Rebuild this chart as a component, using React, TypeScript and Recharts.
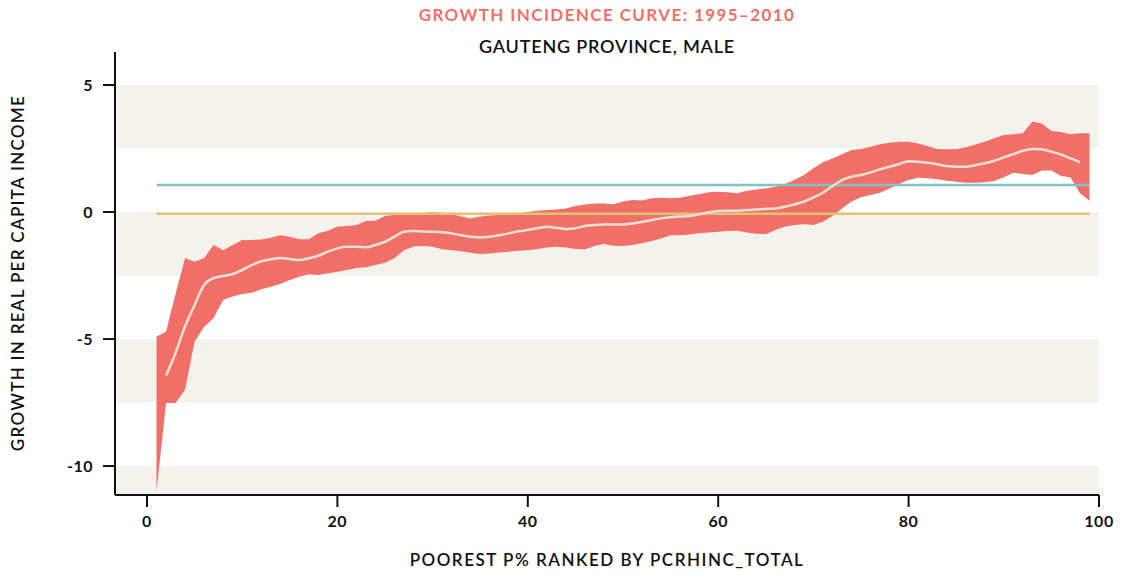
import {
  ComposedChart,
  Area,
  Line,
  XAxis,
  YAxis,
  ReferenceArea,
  ReferenceLine,
} from "recharts";

// percentile of the population, 1..99
const percentiles = Array.from({ length: 99 }, (_, i) => i + 1);

// upper / lower bound of the confidence band
const upper = [
  -4.9, -4.71, -3.23, -1.81, -1.96, -1.81, -1.3, -1.5, -1.3, -1.1,
  -1.1, -1.08, -1.01, -0.91, -0.97, -1.07, -1.07, -0.84, -0.74, -0.58,
  -0.55, -0.51, -0.35, -0.34, -0.16, -0.12, -0.12, -0.08, -0.03, -0.01,
  -0.03, -0.09, -0.18, -0.25, -0.18, -0.14, -0.12, -0.09, -0.05, 0.0,
  0.05, 0.08, 0.1, 0.14, 0.24, 0.3, 0.34, 0.34, 0.31, 0.41,
  0.47, 0.45, 0.54, 0.56, 0.54, 0.56, 0.64, 0.7, 0.78, 0.8,
  0.78, 0.74, 0.84, 0.89, 0.93, 1.0, 1.1, 1.26, 1.46, 1.72,
  1.96, 2.11, 2.27, 2.44, 2.48, 2.57, 2.67, 2.73, 2.77, 2.77,
  2.7, 2.6, 2.48, 2.47, 2.48, 2.55, 2.66, 2.77, 2.9, 3.03,
  3.06, 3.1, 3.56, 3.49, 3.19, 3.15, 3.06, 3.1, 3.1,
];

const lower = [
  -11.0, -7.52, -7.52, -7.0, -5.1, -4.53, -4.17, -3.46, -3.33, -3.23,
  -3.18, -3.04, -2.94, -2.83, -2.68, -2.55, -2.45, -2.48, -2.41, -2.35,
  -2.28, -2.2, -2.17, -2.09, -2.0, -1.82, -1.5, -1.36, -1.34, -1.37,
  -1.47, -1.5, -1.54, -1.6, -1.65, -1.63, -1.59, -1.56, -1.52, -1.5,
  -1.46, -1.4, -1.37, -1.4, -1.46, -1.47, -1.34, -1.26, -1.33, -1.34,
  -1.3, -1.23, -1.14, -1.04, -0.91, -0.91, -0.88, -0.84, -0.81, -0.78,
  -0.75, -0.74, -0.81, -0.86, -0.87, -0.71, -0.58, -0.51, -0.48, -0.51,
  -0.38, -0.16, 0.14, 0.41, 0.58, 0.67, 0.76, 0.93, 1.1, 1.26,
  1.35, 1.33, 1.29, 1.23, 1.19, 1.15, 1.15, 1.17, 1.22, 1.37,
  1.55, 1.5, 1.46, 1.63, 1.63, 1.42, 1.37, 0.74, 0.44,
];

// point estimate of growth, missing at both ends
const median: (number | null)[] = [
  null, -6.44, -5.55, -4.5, -3.66, -2.87, -2.6, -2.52, -2.44, -2.28,
  -2.09, -1.94, -1.86, -1.81, -1.85, -1.89, -1.82, -1.72, -1.56, -1.43,
  -1.37, -1.37, -1.39, -1.3, -1.17, -0.97, -0.78, -0.75, -0.77, -0.78,
  -0.8, -0.84, -0.91, -0.97, -1.0, -0.97, -0.91, -0.84, -0.76, -0.71,
  -0.64, -0.58, -0.62, -0.67, -0.64, -0.55, -0.51, -0.49, -0.49, -0.49,
  -0.45, -0.39, -0.31, -0.25, -0.21, -0.18, -0.16, -0.09, -0.01, 0.04,
  0.05, 0.05, 0.08, 0.1, 0.12, 0.14, 0.21, 0.3, 0.41, 0.58,
  0.76, 1.02, 1.26, 1.39, 1.46, 1.56, 1.68, 1.78, 1.89, 2.0,
  1.98, 1.94, 1.88, 1.81, 1.78, 1.78, 1.84, 1.92, 2.02, 2.15,
  2.28, 2.41, 2.48, 2.47, 2.37, 2.27, 2.11, 1.96, null,
];

const meanGrowth = 1.06;
const zeroLine = -0.07;
const lineStart = 1;
const lineEnd = 99;

const xTicks = [0, 20, 40, 60, 80, 100];
const yTicks = [-10, -5, 0, 5];
const xDomain: [number, number] = [-3.36, 100];
const yDomain: [number, number] = [-11.14, 6.3];
const shadedBands: [number, number][] = [
  [2.5, 5],
  [-2.5, 0],
  [-7.5, -5],
  [-11.14, -10],
];

const data = percentiles.map((p, i) => ({
  p,
  band: [lower[i], upper[i]],
  median: median[i],
}));

const FONT = "Lato, 'Open Sans', sans-serif";
const tickStyle = { fontSize: 16, fill: "#111", fontWeight: 700, fontFamily: FONT, letterSpacing: 0.5 };

export default function App() {
  return (
    <div style={{ position: "absolute", left: 0, top: 0, width: 1125, height: 575, background: "#fff", fontFamily: FONT }}>
      <div style={{ position: "absolute", left: 115, width: 984, top: 4, textAlign: "center", color: "#f07068", fontWeight: 700, fontSize: 17, letterSpacing: 1.4 }}>
        GROWTH INCIDENCE CURVE: 1995–2010
      </div>
      <div style={{ position: "absolute", left: 115, width: 984, top: 35, textAlign: "center", color: "#111", fontWeight: 600, fontSize: 18, letterSpacing: 0.8 }}>
        GAUTENG PROVINCE, MALE
      </div>
      <ComposedChart
        width={1125}
        height={575}
        data={data}
        margin={{ top: 52, right: 26, left: 0, bottom: 0 }}
      >
        {shadedBands.map(([a, b]) => (
          <ReferenceArea
            key={a}
            x1={xDomain[0]}
            x2={xDomain[1]}
            y1={a}
            y2={b}
            fill="#f3f2ed"
            fillOpacity={1}
            stroke="none"
            ifOverflow="hidden"
          />
        ))}
        <XAxis
          type="number"
          dataKey="p"
          domain={xDomain}
          ticks={xTicks}
          allowDataOverflow
          height={80}
          tick={tickStyle}
          tickSize={12}
          tickMargin={9}
          axisLine={{ stroke: "#111", strokeWidth: 2 }}
          tickLine={{ stroke: "#111", strokeWidth: 2 }}
        />
        <YAxis
          type="number"
          domain={yDomain}
          ticks={yTicks}
          allowDataOverflow
          width={115}
          tick={tickStyle}
          tickSize={12}
          tickMargin={10}
          axisLine={{ stroke: "#111", strokeWidth: 2 }}
          tickLine={{ stroke: "#111", strokeWidth: 2 }}
        />
        <Area
          type="linear"
          dataKey="band"
          fill="#f07068"
          fillOpacity={1}
          stroke="none"
          isAnimationActive={false}
        />
        <ReferenceLine
          segment={[{ x: lineStart, y: meanGrowth }, { x: lineEnd, y: meanGrowth }]}
          stroke="#7fc3c5"
          strokeWidth={2.5}
        />
        <ReferenceLine
          segment={[{ x: lineStart, y: zeroLine }, { x: lineEnd, y: zeroLine }]}
          stroke="#e3c272"
          strokeWidth={2.5}
        />
        <Line
          type="monotone"
          dataKey="median"
          stroke="#e6e0d6"
          strokeWidth={2.5}
          dot={false}
          connectNulls={false}
          isAnimationActive={false}
        />
      </ComposedChart>
      <div style={{ position: "absolute", left: 115, width: 984, top: 549, textAlign: "center", color: "#111", fontWeight: 600, fontSize: 17, letterSpacing: 1.5 }}>
        POOREST P% RANKED BY PCRHINC_TOTAL
      </div>
      <div
        style={{
          position: "absolute",
          left: 17,
          top: 273,
          transform: "translate(-50%, -50%) rotate(-90deg)",
          whiteSpace: "nowrap",
          color: "#111",
          fontWeight: 600,
          fontSize: 17,
          letterSpacing: 1.3,
        }}
      >
        GROWTH IN REAL PER CAPITA INCOME
      </div>
    </div>
  );
}
